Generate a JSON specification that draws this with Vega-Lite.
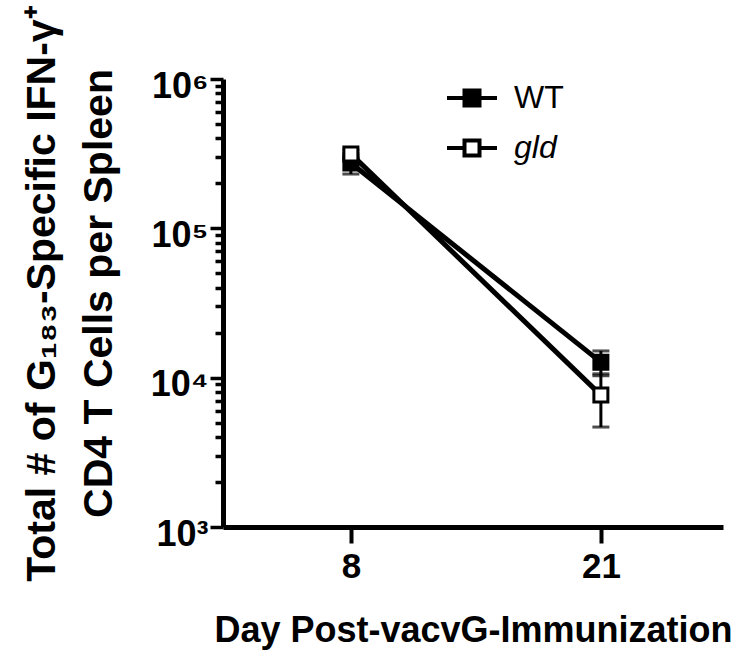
{
  "$schema": "https://vega.github.io/schema/vega-lite/v6.json",
  "width": 500,
  "height": 448,
  "autosize": {"type": "none"},
  "padding": {"left": 223, "top": 79, "right": 27, "bottom": 135},
  "background": "white",
  "config": {
    "view": {"stroke": null},
    "font": "Liberation Sans",
    "axis": {
      "domainColor": "black",
      "domainWidth": 5,
      "tickColor": "black",
      "grid": false,
      "labelColor": "black",
      "titleColor": "black",
      "labelFont": "Liberation Sans",
      "titleFont": "Liberation Sans",
      "labelFontWeight": "bold",
      "titleFontWeight": "bold"
    }
  },
  "data": {
    "values": [
      {"day": 8, "group": "WT", "mean": 274000, "lo": 231000, "hi": 317000},
      {"day": 21, "group": "WT", "mean": 12700, "lo": 10300, "hi": 15100},
      {"day": 8, "group": "gld", "mean": 315000, "lo": 295000, "hi": 335000},
      {"day": 21, "group": "gld", "mean": 7640, "lo": 4670, "hi": 10610}
    ]
  },
  "layer": [
    {
      "mark": {"type": "line", "color": "black", "strokeWidth": 5},
      "encoding": {
        "x": {
          "field": "day",
          "type": "quantitative",
          "scale": {"domain": [1.35, 27.35], "nice": false, "zero": false},
          "axis": {
            "values": [8, 21],
            "tickSize": 16,
            "tickWidth": 4,
            "labelFontSize": 35,
            "labelPadding": 6,
            "title": "Day Post-vacvG-Immunization",
            "titleFontSize": 36,
            "titleBaseline": "alphabetic",
            "titleY": 114
          }
        },
        "y": {
          "field": "mean",
          "type": "quantitative",
          "scale": {"type": "log", "domain": [1000, 1000000], "nice": false},
          "axis": {
            "values": [1000, 2000, 3000, 4000, 5000, 6000, 7000, 8000, 9000, 10000, 20000, 30000, 40000, 50000, 60000, 70000, 80000, 90000, 100000, 200000, 300000, 400000, 500000, 600000, 700000, 800000, 900000, 1000000],
            "labelExpr": "datum.value == 1000 ? '10\u00b3' : datum.value == 10000 ? '10\u2074' : datum.value == 100000 ? '10\u2075' : datum.value == 1000000 ? '10\u2076' : ''",
            "tickSize": {"condition": {"test": "datum.value == 1000 || datum.value == 10000 || datum.value == 100000 || datum.value == 1000000", "value": 13}, "value": 8},
            "tickWidth": 3.5,
            "labelFontSize": 36,
            "labelPadding": 2,
            "labelOffset": 7,
            "labelBaseline": "middle",
            "title": ["Total # of G\u2081\u2088\u2083-Specific IFN-\u03b3\u207a", "CD4 T Cells per Spleen"],
            "titleFontSize": 41,
            "titleLineHeight": 57,
            "titleBaseline": "middle",
            "titleAlign": "center",
            "titleAngle": -90,
            "titleX": -181,
            "titleY": 214
          }
        },
        "detail": {"field": "group", "type": "nominal"}
      }
    },
    {
      "mark": {
        "type": "errorbar",
        "color": "black",
        "thickness": 3,
        "ticks": {"size": 17, "thickness": 3, "color": "black"}
      },
      "encoding": {
        "x": {"field": "day", "type": "quantitative"},
        "y": {"field": "lo", "type": "quantitative", "title": ["Total # of G\u2081\u2088\u2083-Specific IFN-\u03b3\u207a", "CD4 T Cells per Spleen"]},
        "y2": {"field": "hi"}
      }
    },
    {
      "mark": {"type": "point", "shape": "square", "size": 196, "filled": true, "stroke": "black", "strokeWidth": 3, "opacity": 1},
      "encoding": {
        "x": {"field": "day", "type": "quantitative"},
        "y": {"field": "mean", "type": "quantitative"},
        "fill": {
          "field": "group",
          "type": "nominal",
          "scale": {"domain": ["WT", "gld"], "range": ["black", "white"]},
          "legend": {
            "orient": "none",
            "legendX": 222,
            "legendY": -8,
            "title": null,
            "symbolType": "M-1,0H-0.3M0.3,0H1M-0.3,-0.3H0.3V0.3H-0.3Z",
            "symbolSize": 2500,
            "symbolStrokeColor": "black",
            "symbolStrokeWidth": 4,
            "labelFontSize": 32,
            "labelFont": "Liberation Sans",
            "labelColor": "black",
            "labelFontStyle": {"expr": "datum.label == 'gld' ? 'italic' : 'normal'"},
            "labelOffset": 15,
            "rowPadding": 7,
            "padding": 0,
            "encode": {
              "symbols": {"update": {"stroke": {"value": "black"}, "strokeWidth": {"value": 4}, "opacity": {"value": 1}}},
              "labels": {"update": {"fontStyle": {"signal": "datum.label == 'gld' ? 'italic' : 'normal'"}}}
            }
          }
        }
      }
    }
  ]
}
